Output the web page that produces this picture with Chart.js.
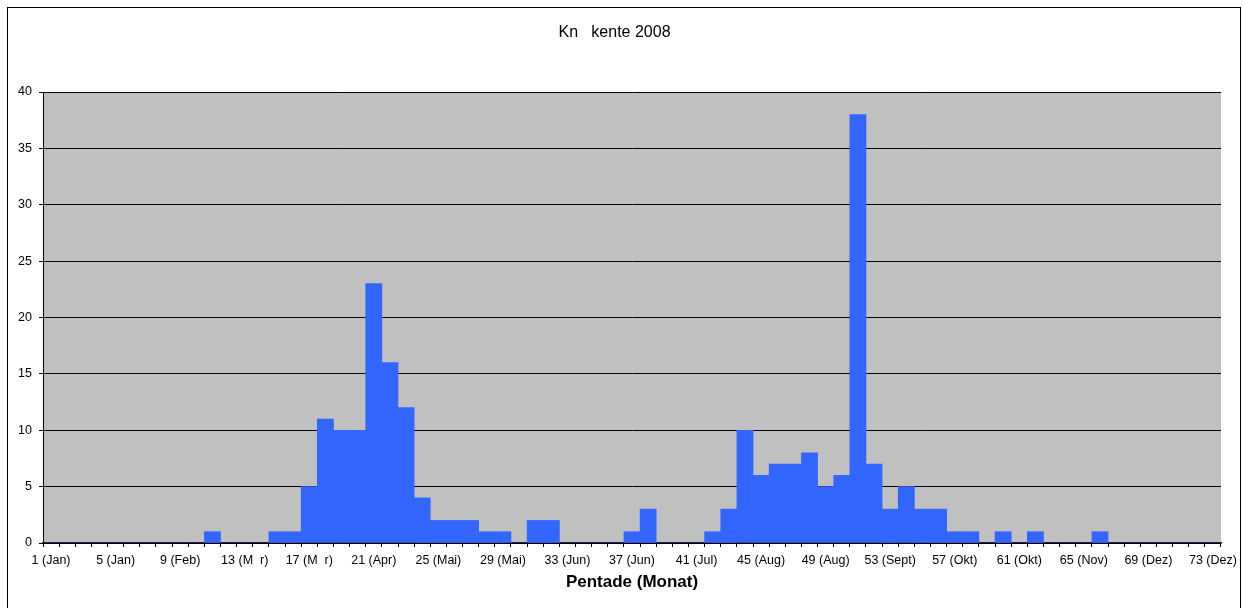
<!DOCTYPE html>
<html>
<head>
<meta charset="utf-8">
<script src="https://cdn.jsdelivr.net/npm/chart.js@4"></script>
<style>
  html, body { margin: 0; padding: 0; background: #fff; overflow: hidden; }
  #box { position: absolute; left: 7px; top: 7px; width: 1232px; height: 610px; border: 1px solid #000; }
  canvas { position: absolute; left: 0; top: 0; }
</style>
</head>
<body>
<div id="box"><canvas id="c" width="1232" height="602"></canvas></div>
<script>
const pentades = [1,2,3,4,5,6,7,8,9,10,11,12,13,14,15,16,17,18,19,20,21,22,23,24,25,26,27,28,29,30,31,32,33,34,35,36,37,38,39,40,41,42,43,44,45,46,47,48,49,50,51,52,53,54,55,56,57,58,59,60,61,62,63,64,65,66,67,68,69,70,71,72,73];
const counts = [0,0,0,0,0,0,0,0,0,0, 1,0,0,0,1,1,5,11,10,10, 23,16,12,4,2,2,2,1,1,0, 2,2,0,0,0,0,1,3,0,0, 0,1,3,10,6,7,7,8,5,6, 38,7,3,5,3,3,1,1,0,1, 0,1,0,0,0,1,0,0,0,0, 0,0,0];
const tickLabels = {1:'1 (Jan)',5:'5 (Jan)',9:'9 (Feb)',13:'13 (M  r)',17:'17 (M  r)',21:'21 (Apr)',25:'25 (Mai)',29:'29 (Mai)',33:'33 (Jun)',37:'37 (Jun)',41:'41 (Jul)',45:'45 (Aug)',49:'49 (Aug)',53:'53 (Sept)',57:'57 (Okt)',61:'61 (Okt)',65:'65 (Nov)',69:'69 (Dez)',73:'73 (Dez)'};
const chartTitle = 'Kn   kente 2008';
const xTitle = 'Pentade (Monat)';

const plotBg = {
  id: 'plotBg',
  beforeDraw(chart) {
    const a = chart.chartArea, ctx = chart.ctx;
    ctx.save();
    ctx.fillStyle = '#C0C0C0';
    ctx.fillRect(a.left, a.top, a.right - a.left, a.bottom - a.top);
    ctx.restore();
  }
};

Chart.defaults.font.family = '"Liberation Sans", Arial, sans-serif';
Chart.defaults.color = '#000';

new Chart(document.getElementById('c'), {
  type: 'bar',
  data: {
    labels: pentades,
    datasets: [{
      data: counts,
      backgroundColor: '#3366FF',
      borderWidth: 0,
      barPercentage: 1,
      categoryPercentage: 1
    }]
  },
  options: {
    responsive: false,
    animation: false,
    devicePixelRatio: 1,
    layout: { padding: { left: 0, right: 19, top: 0, bottom: 0 } },
    plugins: {
      legend: { display: false },
      tooltip: { enabled: false },
      title: {
        display: true,
        text: chartTitle,
        font: { size: 16, weight: 'normal' },
        color: '#000',
        padding: { top: 15, bottom: 49.8 }
      }
    },
    scales: {
      x: {
        grid: { display: true, drawOnChartArea: false, drawTicks: true, tickLength: 4, color: '#000', offset: true },
        border: { display: true, color: '#000', width: 1.5 },
        ticks: {
          autoSkip: false,
          maxRotation: 0,
          padding: 6,
          font: { size: 12.5 },
          color: '#000',
          callback: function(v, i) { const p = pentades[i]; return tickLabels[p] || ''; }
        },
        title: {
          display: true,
          text: xTitle,
          font: { size: 17, weight: 'bold' },
          color: '#000',
          padding: { top: 0, bottom: 17 }
        },
        afterFit(scale) { scale.height = 67; scale.paddingLeft = 0; scale.paddingRight = 0; }
      },
      y: {
        min: 0,
        max: 40,
        ticks: { stepSize: 5, padding: 7, font: { size: 12.5 }, color: '#000' },
        grid: { color: '#000', lineWidth: 1, drawTicks: true, tickLength: 4 },
        border: { display: true, color: '#000', width: 1 },
        afterFit(scale) { scale.width = 35; }
      }
    }
  },
  plugins: [plotBg]
});
</script>
</body>
</html>
